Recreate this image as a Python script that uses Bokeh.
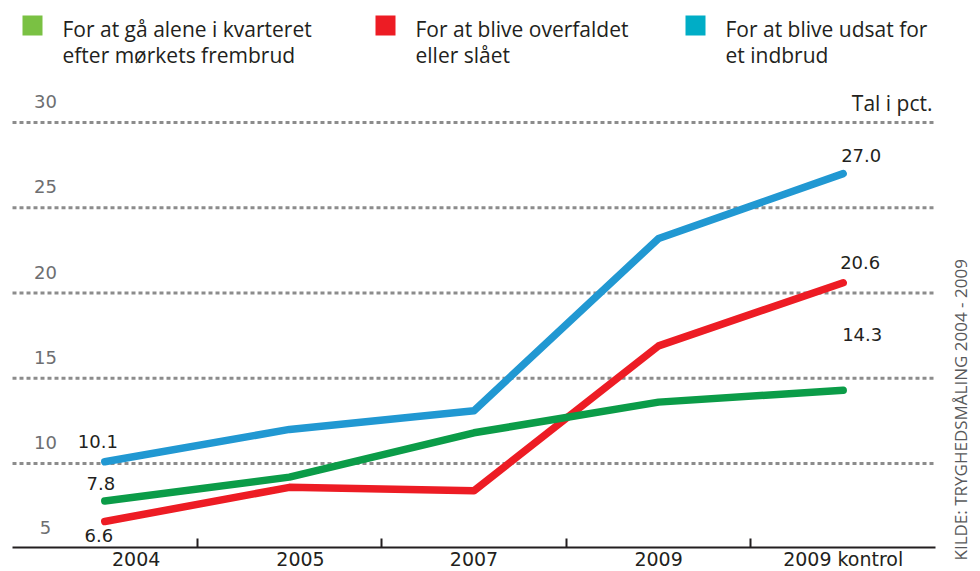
import math
from bokeh.plotting import figure
from bokeh.models import ColumnDataSource, FixedTicker, Label
from bokeh.core.properties import value
from bokeh.embed import file_html
from bokeh.resources import INLINE

# ---------------- data ----------------
categories = ["2004", "2005", "2007", "2009", "2009 kontrol"]
alone_after_dark = [7.8, 9.2, 11.8, 13.6, 14.3]
assaulted = [6.6, 8.6, 8.4, 16.9, 20.6]
burglary = [10.1, 12.0, 13.1, 23.2, 27.0]
series_labels = [
    "For at gå alene i kvarteret\nefter mørkets frembrud",
    "For at blive overfaldet\neller slået",
    "For at blive udsat for\net indbrud",
]
y_ticks = [5, 10, 15, 20, 25, 30]
unit_label = "Tal i pct."
source_note = "KILDE: TRYGHEDSMÅLING 2004 - 2009"

# ---------------- style ----------------
LINE_GREEN, LINE_RED, LINE_BLUE = "#0b9c48", "#ed1c24", "#2198d2"
KEY_GREEN, KEY_RED, KEY_BLUE = "#7ac143", "#ed1c24", "#00adc6"
INK = "#231f20"
GRID = "#8c8c8c"
FONT_NAME = "Open Sans"
NUM_FONT_NAME = "DejaVu Sans"
FONT = value(FONT_NAME)
NUM_FONT = value(NUM_FONT_NAME)

W, H = 980, 571
PXX = (935 - 12) / len(categories)      # pixels per category
PXY = (463 - 122) / 20.0                # pixels per unit
X0 = -0.5 - 12 / PXX
X1 = X0 + W / PXX
Y1 = 30 + 122 / PXY
Y0 = Y1 - H / PXY


def px_x(ix):
    return X0 + ix / PXX


def px_y(iy):
    return Y1 - iy / PXY


xs = list(range(len(categories)))

p = figure(width=W, height=H, x_range=(X0, X1), y_range=(Y0, Y1),
           output_backend="svg", toolbar_location=None,
           y_axis_location=None,
           min_border_left=0, min_border_right=0, min_border_top=0,
           min_border_bottom=0)
p.outline_line_color = None
p.grid.visible = False
p.background_fill_color = "white"
p.border_fill_color = "white"

# x axis: labels under categories, ticks between categories
cat_shift = [0.17, 0.06, 0, 0, 0]
tick_pos = [i + s for i, s in zip(xs, cat_shift)]
xa = p.xaxis[0]
xa.fixed_location = px_y(547)
xa.ticker = FixedTicker(ticks=tick_pos, minor_ticks=[i + 0.5 for i in xs[:-1]])
xa.major_label_overrides = {t: c for t, c in zip(tick_pos, categories)}
xa.bounds = (xs[0] - 0.5, xs[-1] + 0.5)
xa.axis_line_color = INK
xa.axis_line_width = 2
xa.major_tick_line_color = None
xa.major_tick_in = 0
xa.major_tick_out = 0
xa.minor_tick_line_color = INK
xa.minor_tick_line_width = 2
xa.minor_tick_in = 9
xa.minor_tick_out = 0
xa.major_label_standoff = 0
xa.major_label_text_font = NUM_FONT_NAME
xa.major_label_text_font_size = "19px"
xa.major_label_text_color = INK

# dashed gridlines
gl = y_ticks[1:]
p.segment(x0=[xs[0] - 0.5] * len(gl), x1=[xs[-1] + 0.5] * len(gl), y0=gl, y1=gl,
          line_color=GRID, line_width=3, line_dash="4 3")

# y tick labels above gridlines
p.text(x=[px_x(45)] * len(y_ticks), y=y_ticks, text=[str(t) for t in y_ticks],
       y_offset=-21, text_align="center", text_baseline="middle",
       text_font=NUM_FONT, text_font_size="18px", text_color="#6d6e71")

# lines
for ys, c in [(assaulted, LINE_RED), (alone_after_dark, LINE_GREEN), (burglary, LINE_BLUE)]:
    p.line(x=xs, y=ys, line_color=c, line_width=7.5, line_cap="round", line_join="round")

# endpoint value labels
end_vals = [burglary[0], alone_after_dark[0], assaulted[0],
            burglary[-1], assaulted[-1], alone_after_dark[-1]]
end_src = ColumnDataSource(dict(
    x=[xs[0], xs[0], xs[0], xs[-1], xs[-1], xs[-1]],
    y=end_vals,
    text=[f"{v:.1f}" for v in end_vals],
    dx=[-7, -4, -6, 18, 17, 19],
    dy=[-20, -18, 14, -18, -20, -56],
))
p.text(x="x", y="y", text="text", x_offset="dx", y_offset="dy", source=end_src,
       text_align="center", text_baseline="middle", text_font=NUM_FONT,
       text_font_size="18px", text_color=INK)

# legend
key_x = [32, 385, 695]
txt_x = [62, 415, 725]
p.scatter(x=[px_x(v) for v in key_x], y=[px_y(25)] * 3, marker="square", size=20,
          fill_color=[KEY_GREEN, KEY_RED, KEY_BLUE], line_color=None)
p.text(x=[px_x(v) for v in txt_x], y=[px_y(41.5)] * 3, text=series_labels,
       text_align="left", text_baseline="middle", text_font=FONT,
       text_font_size="21px", text_line_height=0.95, text_color=INK)

# unit label
p.text(x=[px_x(932)], y=[px_y(102)], text=[unit_label], text_align="right",
       text_baseline="middle", text_font=FONT, text_font_size="21px", text_color=INK)

# rotated source note
p.add_layout(Label(x=px_x(960), y=px_y(560), text=source_note, angle=math.pi / 2,
                   text_align="left", text_baseline="middle", text_font=FONT_NAME,
                   text_font_size="17px", text_color="#58595b"))

open("out.html", "w").write(file_html(p, INLINE))
